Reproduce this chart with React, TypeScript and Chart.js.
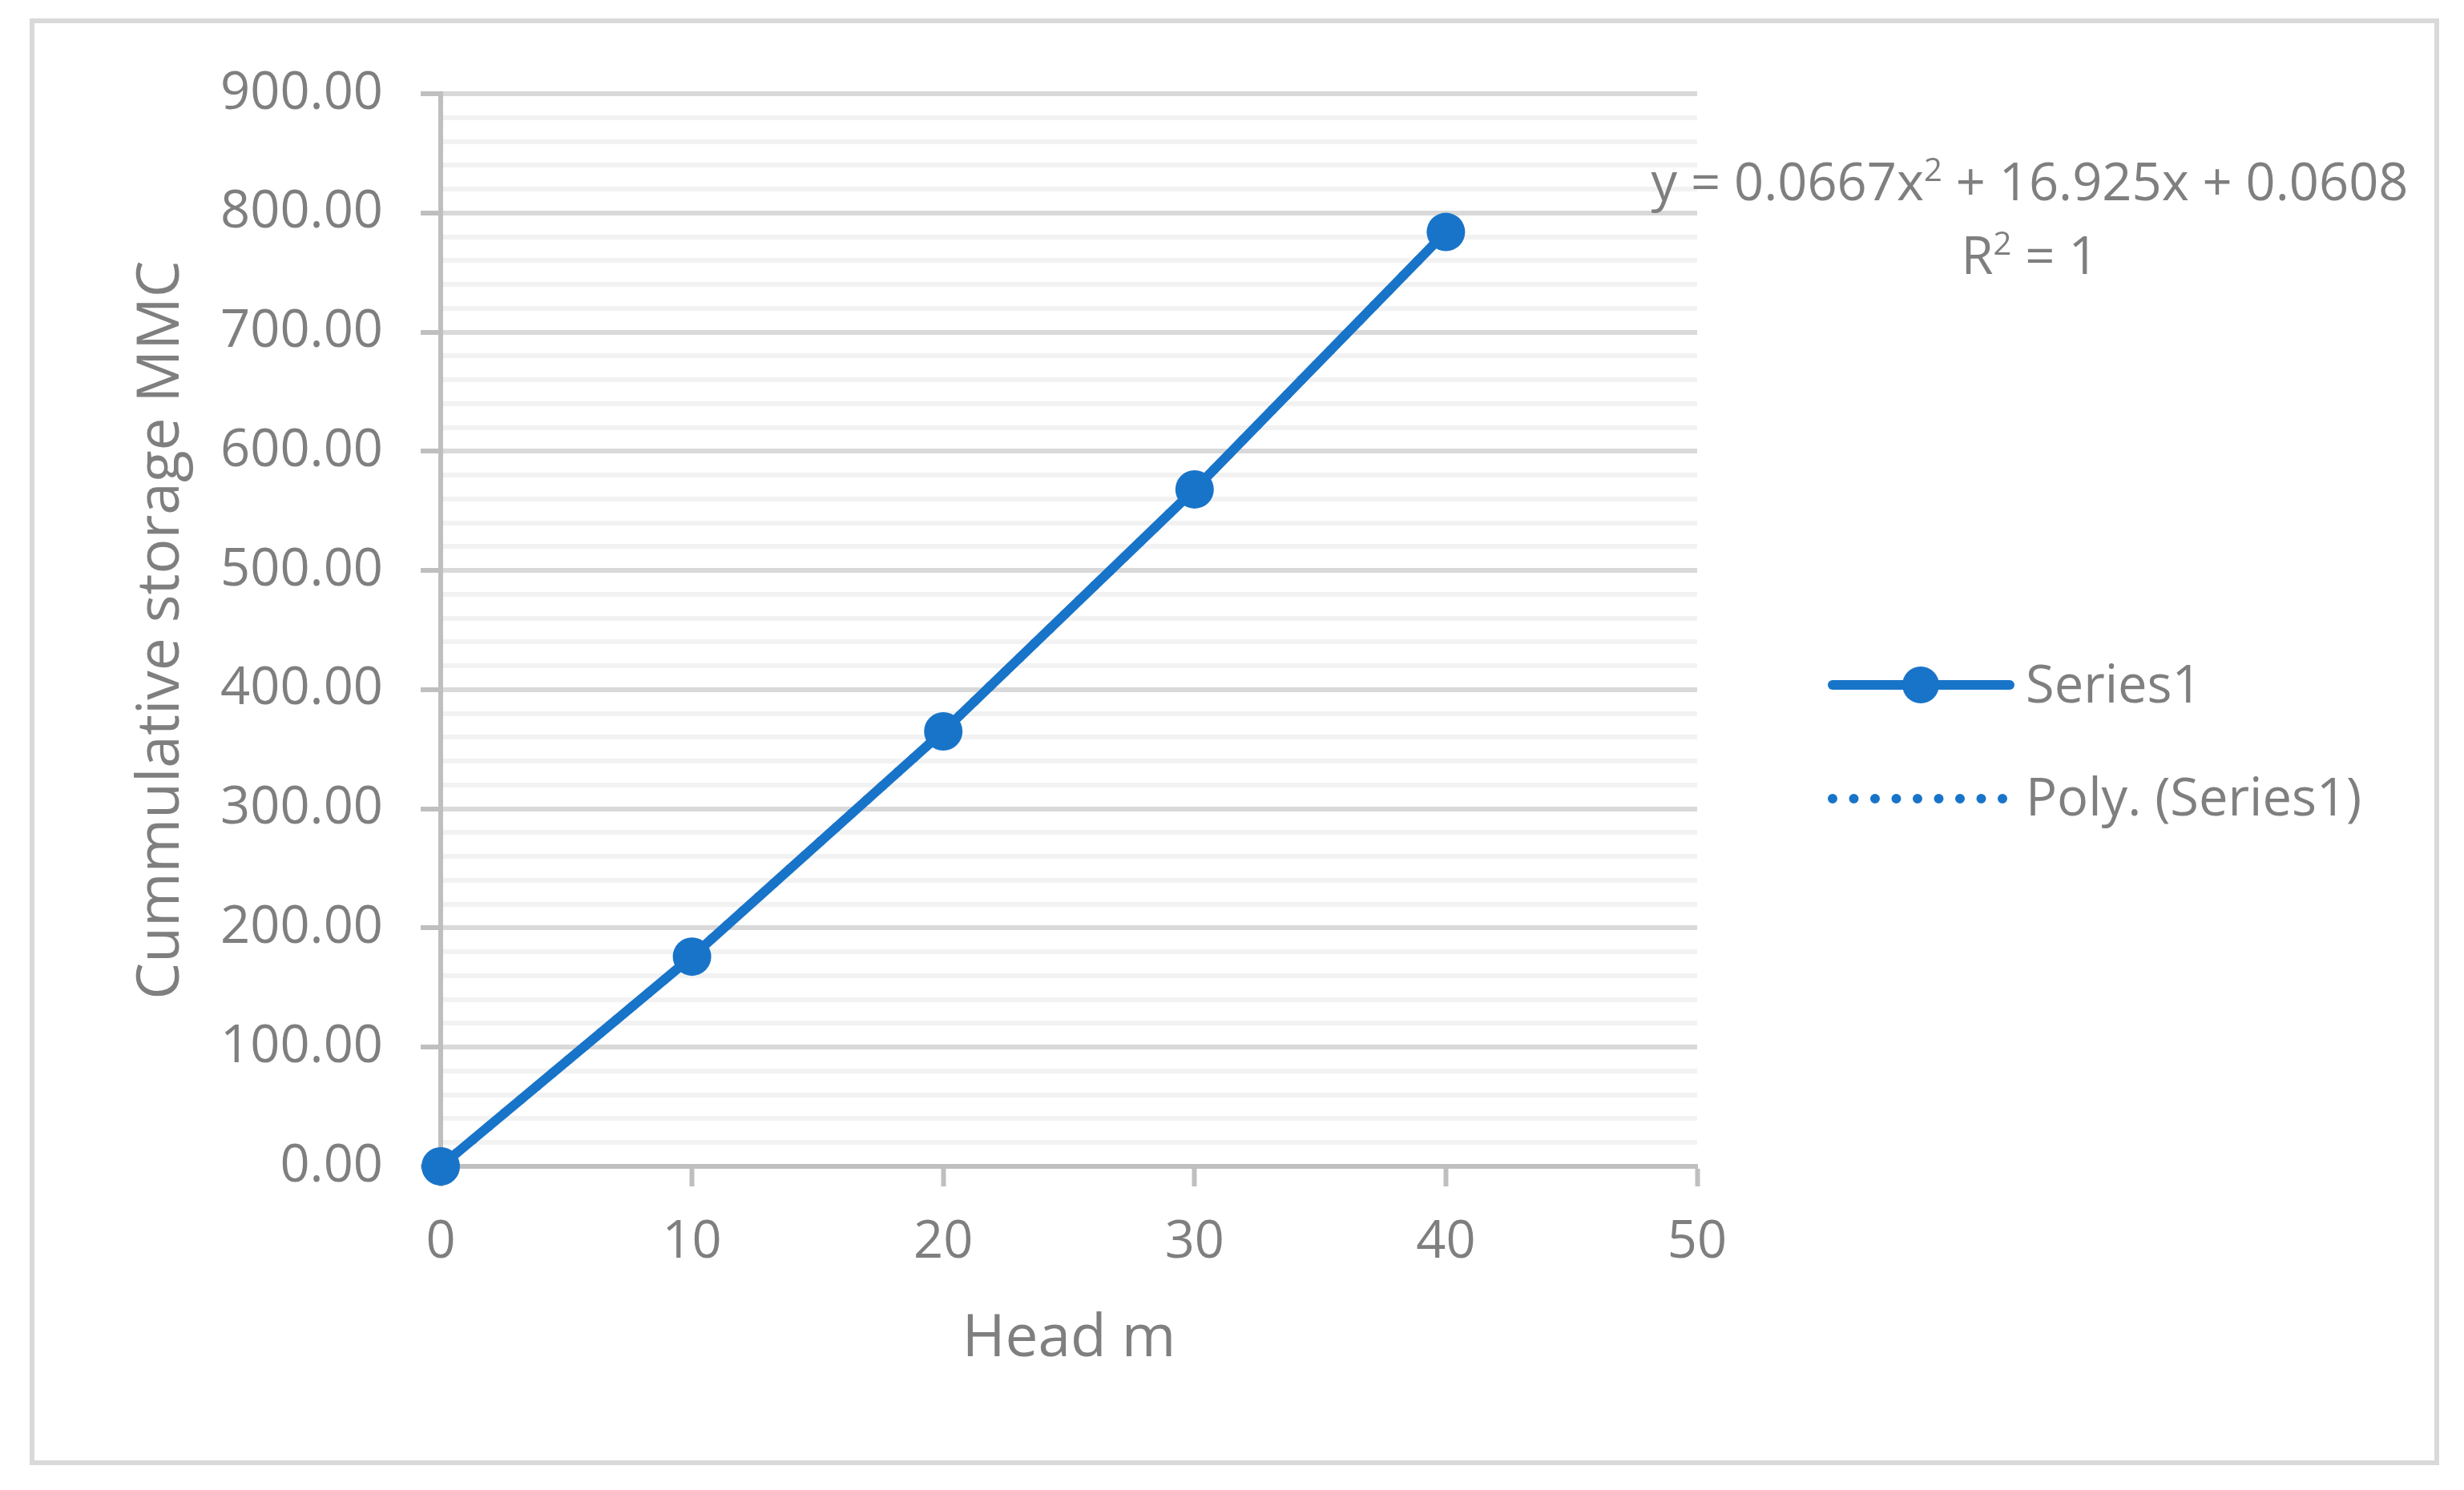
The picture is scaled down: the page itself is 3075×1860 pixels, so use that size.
import React, { useEffect, useRef } from "react";
import { Chart, registerables } from "chart.js";

Chart.register(...registerables);

// ---- data ----
const headM = [0, 10, 20, 30, 40];
const storageMMC = [0, 176, 365, 568, 784];
const trendStorageMMC = [0, 176, 365, 568, 784];
const xRange = [0, 50];
const yRange = [0, 900];
const xStep = 10;
const yMajorStep = 100;
const yMinorStep = 20;
const seriesName = "Series1";
const trendName = "Poly. (Series1)";
const equationLine1 = ["y = 0.0667x", "2", " + 16.925x + 0.0608"];
const equationLine2 = ["R", "2", " = 1"];
const xTitle = "Head m";
const yTitle = "Cummulative storage MMC";

const W = 3075;
const H = 1860;
const FONT = '"Open Sans", "Noto Sans", sans-serif';
const TEXT = "#7F7F7F";
const BLUE = "#1874C8";

function drawSup(ctx: CanvasRenderingContext2D, parts: string[], cx: number, baseline: number) {
  const main = `65px ${FONT}`;
  const sup = `40px ${FONT}`;
  ctx.font = main;
  const w0 = ctx.measureText(parts[0]).width;
  const w2 = ctx.measureText(parts[2]).width;
  ctx.font = sup;
  const w1 = ctx.measureText(parts[1]).width;
  let x = cx - (w0 + w1 + w2) / 2;
  ctx.textAlign = "left";
  ctx.textBaseline = "alphabetic";
  ctx.fillStyle = TEXT;
  ctx.font = main;
  ctx.fillText(parts[0], x, baseline);
  x += w0;
  ctx.font = sup;
  ctx.fillText(parts[1], x, baseline - 24);
  x += w1;
  ctx.font = main;
  ctx.fillText(parts[2], x, baseline);
}

const overlayPlugin = {
  id: "overlay",
  beforeDraw(chart: any) {
    const ctx = chart.ctx;
    ctx.save();
    ctx.fillStyle = "#FFFFFF";
    ctx.fillRect(0, 0, W, H);
    ctx.restore();
  },
  afterDraw(chart: any) {
    const ctx: CanvasRenderingContext2D = chart.ctx;
    ctx.save();
    // outer chart border
    ctx.strokeStyle = "#D9D9D9";
    ctx.lineWidth = 6;
    ctx.strokeRect(40, 26, 3001, 1800);

    // legend: Series1
    ctx.strokeStyle = BLUE;
    ctx.lineWidth = 12;
    ctx.lineCap = "round";
    ctx.beginPath();
    ctx.moveTo(2287, 855);
    ctx.lineTo(2508, 855);
    ctx.stroke();
    ctx.fillStyle = BLUE;
    ctx.beginPath();
    ctx.arc(2397, 855, 23, 0, Math.PI * 2);
    ctx.fill();

    // legend: Poly
    ctx.setLineDash([0, 26.5]);
    ctx.beginPath();
    ctx.moveTo(2287, 997);
    ctx.lineTo(2500, 997);
    ctx.stroke();
    ctx.setLineDash([]);

    ctx.fillStyle = TEXT;
    ctx.font = `65px ${FONT}`;
    ctx.textAlign = "left";
    ctx.textBaseline = "alphabetic";
    ctx.fillText(seriesName, 2528, 877);
    ctx.fillText(trendName, 2528, 1018);

    // trendline equation
    drawSup(ctx, equationLine1, 2533, 250);
    drawSup(ctx, equationLine2, 2533, 342);
    ctx.restore();
  },
};

export default function App() {
  const ref = useRef<HTMLCanvasElement | null>(null);

  useEffect(() => {
    let chart: Chart | null = null;
    let cancelled = false;
    const build = () => {
      if (cancelled || !ref.current) return;
      const seriesPts = headM.map((x, i) => ({ x, y: storageMMC[i] }));
      const trendPts = headM.map((x, i) => ({ x, y: trendStorageMMC[i] }));
      chart = new Chart(ref.current, {
        type: "scatter",
        data: {
          datasets: [
            {
              label: seriesName,
              data: seriesPts,
              showLine: true,
              borderColor: BLUE,
              backgroundColor: BLUE,
              borderWidth: 12,
              pointRadius: 24,
              pointBorderWidth: 0,
              pointBackgroundColor: BLUE,
              clip: false as any,
              order: 0,
            },
            {
              label: trendName,
              data: trendPts,
              showLine: true,
              borderColor: BLUE,
              borderWidth: 12,
              borderDash: [0, 26],
              borderCapStyle: "round",
              pointRadius: 0,
              clip: false as any,
              order: 1,
            },
          ],
        },
        options: {
          animation: false,
          responsive: false,
          devicePixelRatio: 1,
          events: [],
          layout: { padding: { left: 158, right: 957, top: 117, bottom: 144 } },
          plugins: { legend: { display: false }, tooltip: { enabled: false } },
          scales: {
            x: {
              type: "linear",
              min: xRange[0],
              max: xRange[1],
              afterFit: (s: any) => {
                s.height = 260;
              },
              ticks: {
                stepSize: xStep,
                color: TEXT,
                font: { family: FONT, size: 65 },
                padding: 31,
                maxRotation: 0,
                autoSkip: false,
              },
              grid: {
                drawOnChartArea: false,
                drawTicks: true,
                tickLength: 25,
                tickColor: "#BFBFBF",
                tickWidth: 6,
              },
              border: { color: "#BFBFBF", width: 6 },
              title: {
                display: true,
                text: xTitle,
                color: TEXT,
                font: { family: FONT, size: 73 },
                padding: 0,
              },
            },
            y: {
              type: "linear",
              min: yRange[0],
              max: yRange[1],
              afterFit: (s: any) => {
                s.width = 392;
              },
              ticks: {
                stepSize: yMinorStep,
                autoSkip: false,
                color: TEXT,
                font: { family: FONT, size: 65 },
                padding: 47,
                callback: (v: any) => (Number(v) % yMajorStep === 0 ? Number(v).toFixed(2) : ""),
              },
              grid: {
                color: (c: any) => (c.tick && c.tick.value % yMajorStep === 0 ? "#D9D9D9" : "#F2F2F2"),
                lineWidth: 6,
                drawTicks: true,
                tickLength: 25,
                tickWidth: 6,
                tickColor: (c: any) => (c.tick && c.tick.value % yMajorStep === 0 ? "#BFBFBF" : "rgba(0,0,0,0)"),
              },
              border: { color: "#BFBFBF", width: 6 },
              title: {
                display: true,
                text: yTitle,
                color: TEXT,
                font: { family: FONT, size: 73 },
                padding: 0,
              },
            },
          },
        },
        plugins: [overlayPlugin],
      });
    };
    const fontsReady = (document as any).fonts
      ? Promise.all([
          (document as any).fonts.load(`65px "Open Sans"`),
          (document as any).fonts.load(`73px "Open Sans"`),
        ]).catch(() => null)
      : Promise.resolve(null);
    fontsReady.then(build);
    return () => {
      cancelled = true;
      if (chart) chart.destroy();
    };
  }, []);

  return (
    <div style={{ position: "absolute", left: 0, top: 0, width: W, height: H, background: "#FFFFFF" }}>
      <canvas ref={ref} width={W} height={H} style={{ display: "block", width: W, height: H }} />
    </div>
  );
}
